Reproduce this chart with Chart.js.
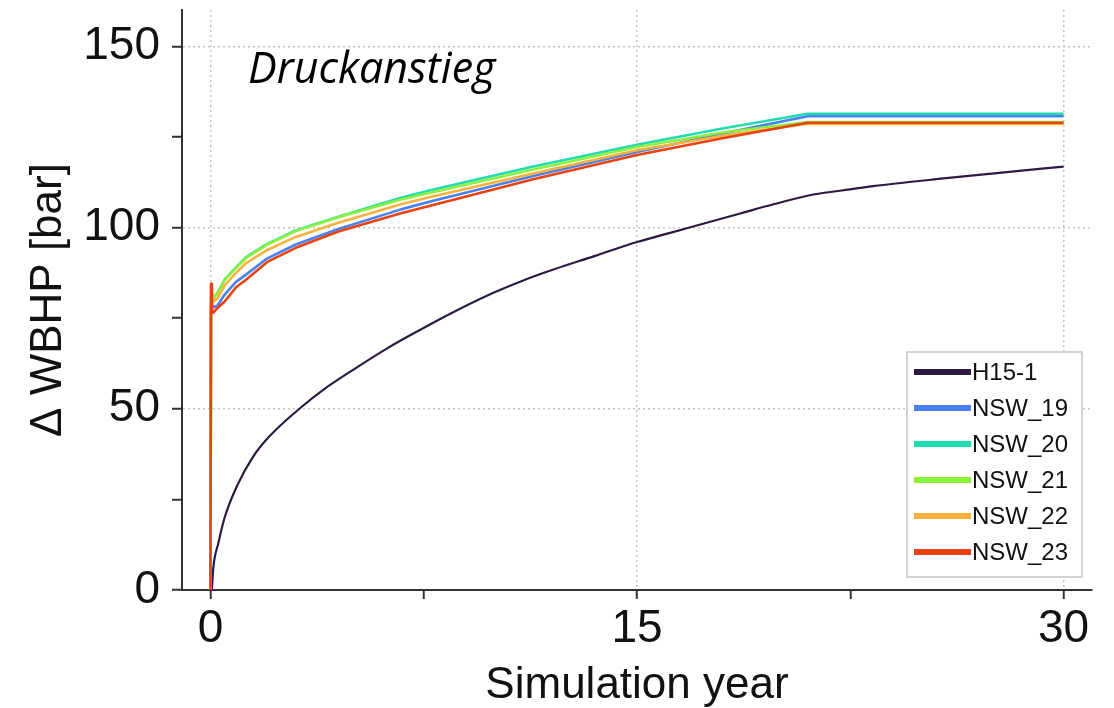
<!DOCTYPE html>
<html>
<head>
<meta charset="utf-8">
<script src="https://cdn.jsdelivr.net/npm/chart.js@4.4.1/dist/chart.umd.min.js"></script>
<style>
  html, body { margin: 0; padding: 0; background: #fff; }
  #wrap { width: 1114px; height: 708px; }
</style>
</head>
<body>
<div id="wrap"><canvas id="chart" width="1114" height="708"></canvas></div>
<script>
// Series names and colours
const seriesNames = ['H15-1', 'NSW_19', 'NSW_20', 'NSW_21', 'NSW_22', 'NSW_23'];
const seriesColors = ['#2e1a40', '#4a80f0', '#1fdcb0', '#8cf03c', '#f8b23c', '#e8420e'];

// H15-1 (years, delta WBHP in bar)
const yearsH15 = [0.05, 0.1, 0.28, 0.5, 0.94, 1.52, 2.1, 3.16, 4, 5.03, 6.2, 7.38, 8.5, 9.72, 11, 12.06, 13.5, 15, 16.2, 17.45, 18.6, 19.8, 21.2, 22.2, 23.3, 25.6, 28, 30];
const h15 = [0, 6, 13, 20, 28.8, 37, 42.6, 50.2, 55.4, 60.8, 66.6, 71.8, 76.5, 81.2, 85.4, 88.4, 92.1, 96, 98.6, 101.3, 103.8, 106.4, 109.1, 110.2, 111.4, 113.4, 115.3, 116.8];

// NSW wells share the same time steps
const yearsNsw = [0, 0.02, 0.05, 0.1, 0.25, 0.5, 0.9, 1.25, 2, 3, 4.5, 6.7, 7.73, 11.35, 15, 18, 21, 30];
const nsw19 = [0, 77, 79, 78, 78.5, 81.5, 85, 87, 91.5, 95.3, 99.6, 105, 107.2, 114.2, 120.8, 125.9, 130.7, 130.7];
const nsw20 = [0, 80, 81.5, 80.5, 82, 85.6, 89, 91.8, 95.5, 99.2, 103, 108.2, 110.3, 116.8, 122.8, 127.3, 131.4, 131.4];
const nsw21 = [0, 79, 82, 80.5, 82, 85.6, 88.9, 91.6, 95.3, 99, 102.8, 107.7, 109.6, 116, 122.2, 126.2, 129.1, 129.1];
const nsw22 = [0, 78, 81, 79.5, 80.5, 84, 87.5, 90.2, 93.8, 97.4, 101.3, 106.4, 108.4, 114.9, 121.3, 125.3, 128.6, 128.6];
const nsw23 = [0, 84.5, 77, 76.5, 77.8, 79.6, 83.5, 85.6, 90.5, 94.4, 98.9, 103.9, 106, 113.3, 120, 124.6, 128.9, 128.9];

// Axis ticks
const xTicks = [0, 7.5, 15, 22.5, 30];
const xTickLabels = ['0', '', '15', '', '30'];
const yTicks = [0, 25, 50, 75, 100, 125, 150];
const yTickLabels = ['0', '', '50', '', '100', '', '150'];
const majorX = [0, 15, 30];
const majorY = [50, 100, 150];

const panelTitle = 'Druckanstieg';

function toPoints(xs, ys) {
    return xs.map((x, i) => ({ x: x, y: ys[i] }));
}

const seriesData = [
    toPoints(yearsH15, h15),
    toPoints(yearsNsw, nsw19),
    toPoints(yearsNsw, nsw20),
    toPoints(yearsNsw, nsw21),
    toPoints(yearsNsw, nsw22),
    toPoints(yearsNsw, nsw23)
];

// H15-1 is smooth, the NSW wells have a sharp knee where they level off
const datasets = seriesNames.map((name, i) => ({
    label: name,
    data: seriesData[i],
    borderColor: seriesColors[i],
    backgroundColor: seriesColors[i],
    borderWidth: i === 0 ? 2.2 : 2.6,
    pointRadius: 0,
    tension: i === 0 ? 0.4 : 0,
    cubicInterpolationMode: i === 0 ? 'monotone' : 'default',
    borderJoinStyle: 'round',
    order: seriesNames.length - i
}));

const gridColor = (list) => (ctx) =>
    ctx.tick && list.includes(ctx.tick.value) ? '#c4c4c4' : 'rgba(0,0,0,0)';

// Legend box inside the plot + italic panel title
const overlayPlugin = {
    id: 'overlay',
    afterDraw(chart) {
        const ctx = chart.ctx;
        const area = chart.chartArea;
        ctx.save();

        ctx.font = 'italic 43px "Open Sans", "Liberation Sans", sans-serif';
        ctx.fillStyle = '#000';
        ctx.textBaseline = 'alphabetic';
        ctx.textAlign = 'left';
        ctx.fillText(panelTitle, area.left + 66, area.top + 73);

        const bx = area.right - 185, by = area.bottom - 238, bw = 175, bh = 225;
        ctx.fillStyle = '#ffffff';
        ctx.fillRect(bx, by, bw, bh);
        ctx.strokeStyle = '#d2d2d2';
        ctx.lineWidth = 2;
        ctx.strokeRect(bx, by, bw, bh);

        ctx.font = '24px "Liberation Sans", Arial, sans-serif';
        ctx.textBaseline = 'middle';
        chart.data.datasets.forEach((ds, i) => {
            const y = by + 20 + i * 36;
            ctx.strokeStyle = ds.borderColor;
            ctx.lineWidth = 6;
            ctx.lineCap = 'butt';
            ctx.beginPath();
            ctx.moveTo(bx + 7, y);
            ctx.lineTo(bx + 64, y);
            ctx.stroke();
            ctx.fillStyle = '#111';
            ctx.fillText(ds.label, bx + 65, y + 1);
        });
        ctx.restore();
    }
};

new Chart(document.getElementById('chart').getContext('2d'), {
    type: 'line',
    data: { datasets: datasets },
    options: {
        responsive: false,
        animation: false,
        layout: { padding: { top: 10, right: 22, left: 0, bottom: 0 } },
        plugins: {
            legend: { display: false },
            tooltip: { enabled: false }
        },
        scales: {
            x: {
                type: 'linear',
                min: -1,
                max: 31,
                afterBuildTicks: (scale) => { scale.ticks = xTicks.map(v => ({ value: v })); },
                afterFit: (scale) => {
                    scale.height = 118;
                    scale.paddingLeft = 0;
                    scale.paddingRight = 0;
                },
                ticks: {
                    autoSkip: false,
                    maxRotation: 0,
                    padding: 7,
                    color: '#111',
                    font: { family: '"Liberation Sans", Arial, sans-serif', size: 46, lineHeight: 1.0 },
                    callback: (value, index) => xTickLabels[index]
                },
                grid: {
                    color: gridColor(majorX),
                    lineWidth: 1.5,
                    tickLength: 9,
                    tickColor: '#333',
                    tickWidth: 2,
                    tickBorderDash: []
                },
                border: { display: true, color: '#333', width: 2, dash: [2, 3] },
                title: {
                    display: true,
                    text: 'Simulation year',
                    color: '#111',
                    font: { family: '"Liberation Sans", Arial, sans-serif', size: 44, lineHeight: 1.0 },
                    padding: { top: 0, bottom: 0 }
                }
            },
            y: {
                type: 'linear',
                min: 0,
                max: 160,
                afterBuildTicks: (scale) => { scale.ticks = yTicks.map(v => ({ value: v })); },
                afterFit: (scale) => {
                    scale.width = 182;
                    scale.paddingTop = 0;
                    scale.paddingBottom = 0;
                },
                ticks: {
                    autoSkip: false,
                    padding: 12,
                    color: '#111',
                    font: { family: '"Liberation Sans", Arial, sans-serif', size: 46 },
                    callback: (value, index) => yTickLabels[index]
                },
                grid: {
                    color: gridColor(majorY),
                    lineWidth: 1.5,
                    tickLength: 10,
                    tickColor: '#333',
                    tickWidth: 2,
                    tickBorderDash: []
                },
                border: { display: true, color: '#333', width: 2, dash: [2, 3] },
                title: {
                    display: true,
                    text: 'Δ WBHP [bar]',
                    color: '#111',
                    font: { family: '"Liberation Sans", Arial, sans-serif', size: 44, lineHeight: 1.2 },
                    padding: { top: 22, bottom: 0 }
                }
            }
        }
    },
    plugins: [overlayPlugin]
});
</script>
</body>
</html>
